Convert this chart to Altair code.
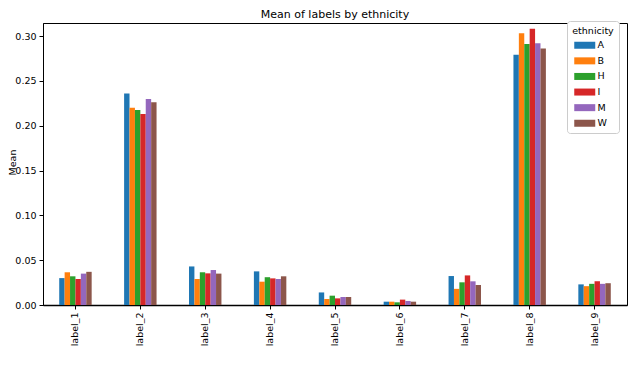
import altair as alt
import pandas as pd

labels = ["label_1", "label_2", "label_3", "label_4", "label_5",
          "label_6", "label_7", "label_8", "label_9"]
groups = ["A", "B", "H", "I", "M", "W"]
vals_A = [0.030, 0.236, 0.043, 0.0375, 0.0140, 0.0037, 0.0323, 0.279, 0.0230]
vals_B = [0.0365, 0.220, 0.029, 0.0260, 0.0067, 0.0037, 0.0180, 0.303, 0.0210]
vals_H = [0.032, 0.2175, 0.0365, 0.0310, 0.0104, 0.0030, 0.0253, 0.291, 0.0236]
vals_I = [0.029, 0.213, 0.0353, 0.0297, 0.0074, 0.0060, 0.0330, 0.308, 0.0265]
vals_M = [0.035, 0.2297, 0.039, 0.0290, 0.0089, 0.0045, 0.0264, 0.292, 0.0236]
vals_W = [0.037, 0.226, 0.035, 0.0320, 0.0089, 0.0037, 0.0223, 0.286, 0.0243]
colors = ["#1f77b4", "#ff7f0e", "#2ca02c", "#d62728", "#9467bd", "#8c564b"]
title_text = ["Mean of labels by ethnicity"]

series = [vals_A, vals_B, vals_H, vals_I, vals_M, vals_W]
rows = []
for g, vals in zip(groups, series):
    for lab, v in zip(labels, vals):
        rows.append({"label": lab, "ethnicity": g, "mean": v})
df = pd.DataFrame(rows)

FONT = "DejaVu Sans"
W, H = 584, 282

bars = alt.Chart(df).mark_bar().encode(
    x=alt.X("label:N", sort=labels,
            scale=alt.Scale(paddingInner=0.5, paddingOuter=0.25),
            axis=alt.Axis(title=None, labelAngle=-90, labelAlign="right",
                          labelBaseline="middle", labelPadding=3,
                          tickSize=4, tickColor="black", domainColor="black",
                          domainWidth=1.6, labelColor="black", labelFontSize=9.5,
                          labelFont=FONT)),
    xOffset=alt.XOffset("ethnicity:N", sort=groups,
                        scale=alt.Scale(paddingInner=0, paddingOuter=0)),
    y=alt.Y("mean:Q", scale=alt.Scale(domain=[0, 0.3145], nice=False, zero=True),
            axis=alt.Axis(title="Mean", values=[0, 0.05, 0.10, 0.15, 0.20, 0.25, 0.30],
                          format=".2f", grid=False, tickSize=4, tickColor="black",
                          domainColor="black", labelColor="black", labelFontSize=9.5,
                          labelFont=FONT, labelPadding=3,
                          titleFont=FONT, titleFontSize=9.5, titleFontWeight="normal",
                          titleColor="black", titleX=-26, titleY=139,
                          titleBaseline="bottom", titleAngle=-90)),
    color=alt.Color("ethnicity:N", sort=groups,
                    scale=alt.Scale(domain=groups, range=colors),
                    legend=alt.Legend(title="ethnicity", orient="none",
                                      legendX=524, legendY=-2,
                                      symbolType="M-3,-1H3V1H-3Z", symbolSize=49,
                                      symbolStrokeWidth=0,
                                      titleAnchor="middle", titleFont=FONT,
                                      titleFontSize=9.5, titleFontWeight="normal",
                                      titleColor="black", labelFont=FONT,
                                      labelFontSize=9.5, labelColor="black",
                                      fillColor="white", strokeColor="#cccccc",
                                      cornerRadius=3, padding=5, rowPadding=4.6,
                                      titlePadding=5, labelOffset=8)),
)

title = alt.Chart(pd.DataFrame({"t": title_text})).mark_text(
    font=FONT, fontSize=11, color="black", align="center", baseline="alphabetic"
).encode(
    text="t:N",
    x=alt.value(W / 2),
    y=alt.value(-5),
)

chart = alt.layer(bars, title).properties(
    width=W,
    height=H,
    autosize=alt.AutoSizeParams(type="none"),
    padding={"left": 35, "top": 15, "right": 2, "bottom": 50},
).configure_view(
    stroke="black", strokeWidth=1
)

chart.save("out.html", embed_options={"renderer": "svg", "actions": False})
